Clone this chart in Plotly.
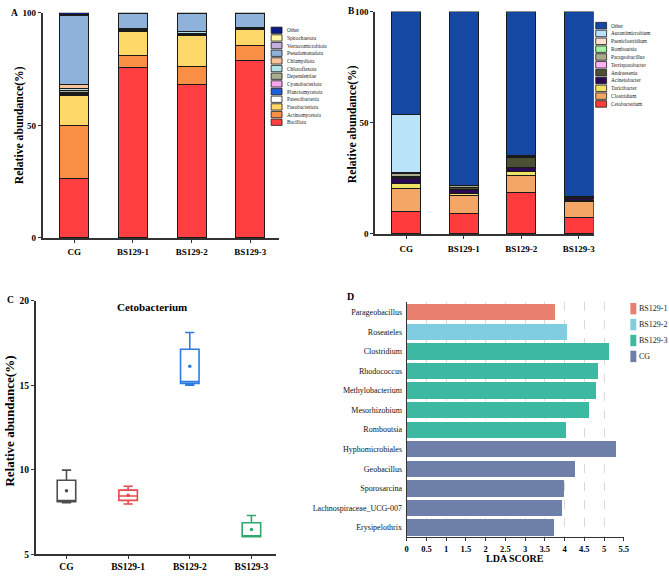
import plotly.graph_objects as go

W, H = 669, 578
def X(px): return px / W
def Y(py): return 1 - py / H

FONT = "Liberation Serif"

# ---------- Panel A data (phylum) ----------
groups = ["CG", "BS129-1", "BS129-2", "BS129-3"]
phyla = ["Bacillota", "Actinomycetota", "Fusobacteriota", "Patescibacteria",
         "Planctomycetota", "Cyanobacteriota", "Dependentiae", "Chloroflexota",
         "Chlamydiota", "Pseudomonadota", "Verrucomicrobiota", "Spirochaetota", "Other"]
phyla_colors = ["#FF3F41", "#F98E45", "#FFD86A", "#FFFFFF", "#1F5FD8", "#F7A6EC",
                "#A9AE8E", "#B3E3E8", "#F8C49C", "#8FB2DA", "#C4AEDC", "#FFF7A3", "#0A1A85"]
phyla_values = {
    "Bacillota":         [26.2, 75.8, 68.1, 79.0],
    "Actinomycetota":    [23.6, 5.1, 8.0, 6.5],
    "Fusobacteriota":    [13.5, 10.9, 13.9, 6.9],
    "Patescibacteria":   [0.5, 0.3, 0.4, 0.3],
    "Planctomycetota":   [0.5, 0.2, 0.2, 0.2],
    "Cyanobacteriota":   [0.4, 0.1, 0.1, 0.1],
    "Dependentiae":      [0.7, 0.2, 0.3, 0.2],
    "Chloroflexota":     [0.9, 0.3, 0.6, 0.2],
    "Chlamydiota":       [1.8, 0.3, 0.3, 0.2],
    "Pseudomonadota":    [30.8, 6.6, 7.9, 6.2],
    "Verrucomicrobiota": [0.2, 0.05, 0.05, 0.05],
    "Spirochaetota":     [0.2, 0.05, 0.05, 0.05],
    "Other":             [0.7, 0.1, 0.1, 0.1],
}

# ---------- Panel B data (genus) ----------
genera = ["Cetobacterium", "Clostridium", "Turicibacter", "Acinetobacter", "Andreesenia",
          "Terrisporobacter", "Parageobacillus", "Romboutsia", "Paeniclostridium",
          "Aurantimicrobium", "Other"]
genera_colors = ["#FF3B3E", "#F3A665", "#EFE264", "#2A0A55", "#4B4F33", "#FDB2F2",
                 "#A8AC8A", "#A3F2A3", "#FDE3CF", "#B9E3F9", "#1448A2"]
genera_values = {
    "Cetobacterium":    [10.1, 9.3, 18.5, 7.2],
    "Clostridium":      [10.3, 7.9, 7.8, 7.6],
    "Turicibacter":     [2.2, 1.2, 1.8, 0.3],
    "Acinetobacter":    [2.3, 1.4, 2.0, 0.7],
    "Andreesenia":      [0.3, 0.9, 4.2, 0.6],
    "Terrisporobacter": [0.5, 0.2, 0.1, 0.1],
    "Parageobacillus":  [1.5, 0.8, 0.5, 0.3],
    "Romboutsia":       [0.1, 0.1, 0.1, 0.05],
    "Paeniclostridium": [0.2, 0.1, 0.1, 0.05],
    "Aurantimicrobium": [26.0, 0.1, 0.1, 0.1],
    "Other":            [46.5, 78.0, 64.8, 83.0],
}

# ---------- Panel C data (Cetobacterium box stats) ----------
box_colors = ["#4D4D4D", "#E8474B", "#2C7BE0", "#2FA86C"]
box_lower = [8.06, 7.98, 15.01, 6.04]
box_q1 = [8.12, 8.19, 15.11, 6.04]
box_median = [8.14, 8.45, 15.22, 6.06]
box_q3 = [9.38, 8.80, 17.13, 6.87]
box_upper = [9.98, 9.03, 18.12, 7.30]
box_mean = [8.76, 8.50, 16.12, 6.47]

# ---------- Panel D data (LEfSe) ----------
lda_taxa = ["Parageobacillus", "Roseateles", "Clostridium", "Rhodococcus", "Methylobacterium",
            "Mesorhizobium", "Romboutsia", "Hyphomicrobiales", "Geobacillus", "Sporosarcina",
            "Lachnospiraceae_UCG-007", "Erysipelothrix"]
lda_scores = [3.76, 4.06, 5.12, 4.85, 4.79, 4.62, 4.04, 5.30, 4.27, 3.98, 3.94, 3.73]
lda_group = ["BS129-1", "BS129-2", "BS129-3", "BS129-3", "BS129-3", "BS129-3", "BS129-3",
             "CG", "CG", "CG", "CG", "CG"]
lda_group_names = ["BS129-1", "BS129-2", "BS129-3", "CG"]
lda_group_colors = ["#E8806F", "#80CDE2", "#3DB9A2", "#6E7FA9"]

fig = go.Figure()

# Panel A bars
for name, col in zip(phyla, phyla_colors):
    fig.add_trace(go.Bar(x=groups, y=phyla_values[name], name=name, marker_color=col,
                         marker_line=dict(color="#1a1a1a", width=1), width=0.49,
                         xaxis="x", yaxis="y", showlegend=False))
# Panel B bars
for name, col in zip(genera, genera_colors):
    fig.add_trace(go.Bar(x=groups, y=genera_values[name], name=name, marker_color=col,
                         marker_line=dict(color="#1a1a1a", width=1), width=0.5,
                         xaxis="x2", yaxis="y2", showlegend=False))
# Panel C boxes
for i, g in enumerate(groups):
    fig.add_trace(go.Box(x=[g], q1=[box_q1[i]], median=[box_median[i]], q3=[box_q3[i]],
                         lowerfence=[box_lower[i]], upperfence=[box_upper[i]],
                         line=dict(color=box_colors[i], width=1.6), fillcolor="white",
                         width=0.3, whiskerwidth=0.5, xaxis="x3", yaxis="y3", showlegend=False))
    fig.add_trace(go.Scatter(x=[g], y=[box_mean[i]], mode="markers",
                             marker=dict(color=box_colors[i], size=3.5),
                             xaxis="x3", yaxis="y3", showlegend=False))
# Panel D bars
for gname, gcol in zip(lda_group_names, lda_group_colors):
    ys = [t for t, g in zip(lda_taxa, lda_group) if g == gname]
    xs = [s for s, g in zip(lda_scores, lda_group) if g == gname]
    fig.add_trace(go.Bar(x=xs, y=ys, orientation="h", marker_color=gcol, marker_line_width=0,
                         xaxis="x4", yaxis="y4", showlegend=False))

tickf = dict(family=FONT, size=9, color="black", weight="bold")
axline = dict(showline=True, linecolor="#333333", linewidth=1.5, ticks="outside",
              ticklen=3, tickwidth=1.2, tickcolor="#333333", showgrid=False, zeroline=False)

fig.update_layout(
    width=W, height=H, margin=dict(l=0, r=0, t=0, b=0),
    paper_bgcolor="white", plot_bgcolor="white", barmode="stack", bargap=0.17,
    showlegend=False,
    xaxis=dict(domain=[X(41), X(280)], range=[-0.54, 3.49], anchor="y", tickfont=tickf,
               ticklabelstandoff=2, **axline),
    yaxis=dict(domain=[Y(237), Y(8)], range=[0, 100], tickvals=[0, 50, 100], anchor="x",
               tickfont=tickf, **axline),
    xaxis2=dict(domain=[X(377), X(598)], range=[-0.54, 3.26], anchor="y2", tickfont=tickf,
                ticklabelstandoff=2, **axline),
    yaxis2=dict(domain=[Y(233), Y(6.7)], range=[0, 100], tickvals=[0, 50, 100], anchor="x2",
                tickfont=tickf, **axline),
    xaxis3=dict(domain=[X(34), X(277)], range=[-0.5, 3.4], anchor="y3",
                tickfont=dict(family=FONT, size=9.5, color="black", weight="bold"), **axline),
    yaxis3=dict(domain=[Y(559), Y(301)], range=[5, 20], tickvals=[5, 10, 15, 20], anchor="x3",
                tickfont=dict(family=FONT, size=9.5, color="black", weight="bold"), **axline),
    xaxis4=dict(domain=[X(409), X(628.3)], range=[0, 5.5], dtick=0.5, anchor="y4",
                showline=True, linecolor="#333333", linewidth=1.2, ticks="outside", ticklen=3,
                tickcolor="#333333", showgrid=True, gridcolor="#d9d9d9", griddash="dash",
                gridwidth=0.8, zeroline=False,
                tickfont=dict(family=FONT, size=8.5, color="black", weight="bold")),
    yaxis4=dict(domain=[Y(541.7), Y(302.7)], type="category", categoryorder="array",
                categoryarray=lda_taxa, autorange="reversed", anchor="x4",
                showline=True, linecolor="#333333", linewidth=1.2, ticks="", showgrid=False,
                tickfont=dict(family=FONT, size=8, color="#111111"), ticklabelstandoff=2),
)

ann = []
def label(x, y, text, size, bold=True, angle=0, xanchor="center", color="black"):
    ann.append(dict(x=X(x), y=Y(y), xref="paper", yref="paper", text=text, showarrow=False,
                    textangle=angle, xanchor=xanchor, yanchor="middle",
                    font=dict(family=FONT, size=size, color=color,
                              weight="bold" if bold else "normal")))

# panel letters
label(13, 8, "A", 9.5)
label(353, 6, "B", 9.5)
label(9, 300, "C", 9.5)
label(352, 297, "D", 10)
# axis titles
label(18, 122.5, "Relative abundance(%)", 11.7, angle=-90)
label(355, 121, "Relative abundance(%)", 11.7, angle=-90)
label(8, 423, "Relative abundance(%)", 13, angle=-90)
label(152, 307.7, "Cetobacterium", 11)
label(518, 563, "LDA SCORE", 10)

shapes = []
# Legend A
for i, (name, col) in enumerate(zip(phyla[::-1], phyla_colors[::-1])):
    yc = 25.7 + i * 7.8
    shapes.append(dict(type="rect", xref="paper", yref="paper", x0=X(272), x1=X(283),
                       y0=Y(yc + 3.2), y1=Y(yc - 3.2), fillcolor=col,
                       line=dict(color="#1a1a1a", width=0.8)))
    label(285.5, yc, name, 5.3, bold=False, xanchor="left", color="#222222")
# Legend B
for i, (name, col) in enumerate(zip(genera[::-1], genera_colors[::-1])):
    yc = 21 + i * 7.97
    shapes.append(dict(type="rect", xref="paper", yref="paper", x0=X(600), x1=X(611),
                       y0=Y(yc + 3.3), y1=Y(yc - 3.3), fillcolor=col,
                       line=dict(color="#1a1a1a", width=0.8)))
    label(613.5, yc, name, 5.3, bold=False, xanchor="left", color="#222222")
# Legend D
for i, (name, col) in enumerate(zip(lda_group_names, lda_group_colors)):
    yc = 309 + i * 16.2
    shapes.append(dict(type="rect", xref="paper", yref="paper", x0=X(635), x1=X(641),
                       y0=Y(yc + 5.8), y1=Y(yc - 5.8), fillcolor=col, line_width=0))
    label(642, yc, name, 8, bold=False, xanchor="left", color="#222222")

fig.update_layout(annotations=ann, shapes=shapes)
fig.write_html("out.html", config={"displayModeBar": False},
               post_script="document.body.style.margin='0';document.body.style.padding='0';")
